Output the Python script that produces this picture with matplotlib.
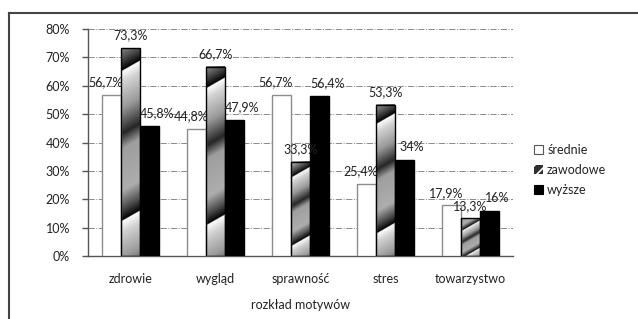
import numpy as np
import matplotlib
matplotlib.use("Agg")
from matplotlib import pyplot as plt
from matplotlib.lines import Line2D
from matplotlib.patches import Patch

plt.rcParams['font.family'] = ['Lato', 'DejaVu Sans']
plt.rcParams['hatch.color'] = 'white'
plt.rcParams['hatch.linewidth'] = 1.2

categories = ['zdrowie', 'wygląd', 'sprawność', 'stres', 'towarzystwo']
srednie = [56.7, 44.8, 56.7, 25.4, 17.9]
zawodowe = [73.3, 66.7, 33.3, 53.3, 13.3]
wyzsze = [45.8, 47.9, 56.4, 34.0, 16.0]
series_names = ['średnie', 'zawodowe', 'wyższe']
y_ticks = [0, 10, 20, 30, 40, 50, 60, 70, 80]

W, H = 638, 319
fig = plt.figure(figsize=(W / 100, H / 100), dpi=100)
ax = fig.add_axes([88 / W, (H - 256) / H, (513 - 88) / W, (256 - 29) / H])

x = np.arange(len(categories))
bw = 0.22
txt = '#222222'


def pct(v):
    s = ('%.1f' % v).replace('.', ',')
    if s.endswith(',0'):
        s = s[:-2]
    return s + '%'


def stripe_values(t):
    # grey level along one period of the zawodowe fill
    tp = [0.0, 0.08, 0.25, 0.42, 0.52, 0.8, 0.92, 1.0]
    gp = [1.0, 0.82, 0.6, 0.15, 0.62, 0.68, 0.3, 0.0]
    return np.interp(t, tp, gp)


b1 = ax.bar(x - bw, srednie, bw, color='white', edgecolor='#8c8c8c', linewidth=1, zorder=3)
b2 = ax.bar(x, zawodowe, bw, color='white', edgecolor='none', zorder=2)
b3 = ax.bar(x + bw, wyzsze, bw, color='black', edgecolor='black', linewidth=1, zorder=3)

# gradient stripes inside the zawodowe bars
px_x = (513 - 88) / len(categories)
px_y = (256 - 29) / 80.0
for xi, v in zip(x, zawodowe):
    wp = bw * px_x
    hp = v * px_y
    nr, nc = int(hp * 3), int(wp * 3)
    d = (np.arange(nr)[:, None] + 0.5) / 3.0
    c = (np.arange(nc)[None, :] + 0.5) / 3.0
    d0 = 0.06 * hp
    period = 0.72 * hp
    t = ((d - 0.58 * (wp - c) - d0) / period) % 1.0
    img = stripe_values(t)
    ax.imshow(img, cmap='gray', vmin=0, vmax=1, aspect='auto', interpolation='bilinear',
              extent=(xi - bw / 2, xi + bw / 2, 0, v), zorder=2.5)
ax.bar(x, zawodowe, bw, color='none', edgecolor='black', linewidth=1, zorder=3)
ax.set_xlim(-0.5, len(categories) - 0.5)
ax.set_ylim(0, 80)

for vals, off, dx in [(srednie, -bw, -6), (zawodowe, 0, 0), (wyzsze, bw, 8)]:
    for xi, v in zip(x, vals):
        ax.annotate(pct(v), (xi + off, v), xytext=(dx * 0.72, 9), textcoords='offset points',
                    ha='center', va='center', fontsize=9, color=txt, zorder=5)

ax.set_yticks(y_ticks)
ax.set_yticklabels(['%d%%' % t for t in y_ticks], fontsize=9, color=txt)
ax.set_xticks(x)
ax.set_xticklabels(categories, fontsize=9, color=txt)
ax.tick_params(axis='x', length=0, pad=12)
ax.tick_params(axis='y', length=4, width=1, color='#555555', direction='out', pad=9)
ax.yaxis.grid(True, linestyle='-.', color='#8a8a8a', linewidth=0.7)
ax.set_axisbelow(True)
for s in ['top', 'right']:
    ax.spines[s].set_visible(False)
for s in ['left', 'bottom']:
    ax.spines[s].set_color('#555555')
    ax.spines[s].set_linewidth(1)
ax.set_xlabel('rozkład motywów', fontsize=9, color=txt, labelpad=10)

handles = [
    Patch(facecolor='white', edgecolor='#555555', linewidth=0.8),
    Patch(facecolor='#303030', hatch='///', linewidth=0),
    Patch(facecolor='black', edgecolor='black', linewidth=0.8),
]
leg = fig.legend(handles, series_names, loc='upper left', bbox_to_anchor=(534 / W, (H - 144) / H),
                 frameon=False, fontsize=9, handlelength=0.75, handleheight=0.75,
                 handletextpad=0.3, labelspacing=0.62, borderpad=0, borderaxespad=0)
for t in leg.get_texts():
    t.set_color(txt)

# chart border (top and left edges visible)
fig.add_artist(Line2D([8.5 / W, 1.0], [(H - 12.5) / H] * 2, transform=fig.transFigure,
                      color='#444444', linewidth=1.5))
fig.add_artist(Line2D([8.5 / W] * 2, [0, (H - 12.5) / H], transform=fig.transFigure,
                      color='#444444', linewidth=1.5))

fig.savefig('out.png', dpi=100)
